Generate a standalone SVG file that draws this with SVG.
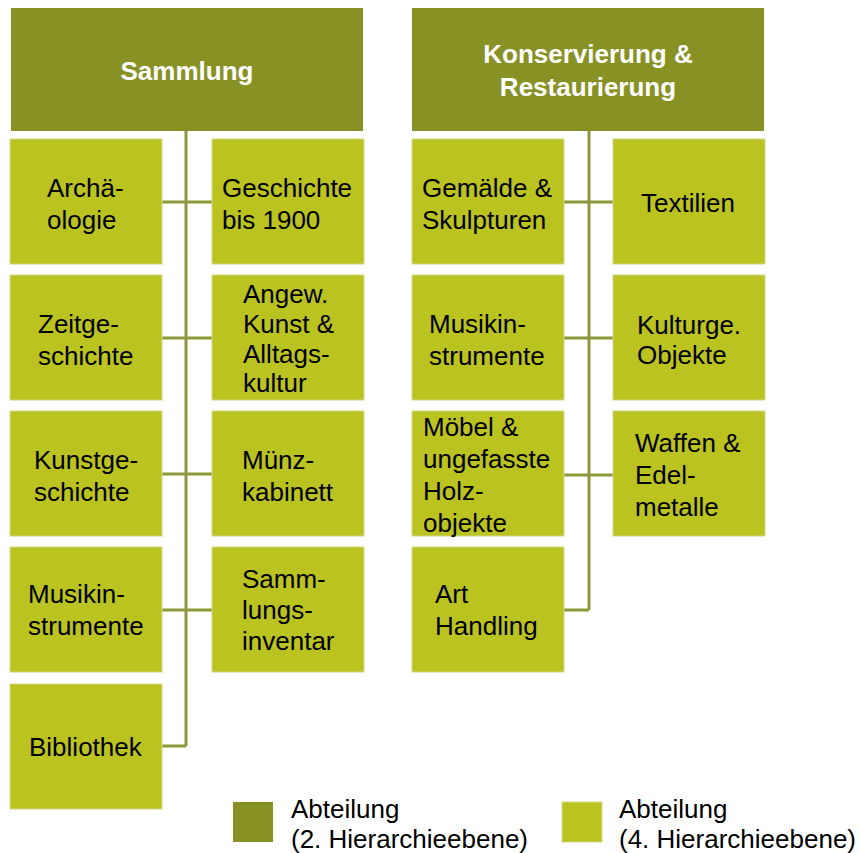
<svg xmlns="http://www.w3.org/2000/svg" width="860" height="853" viewBox="0 0 860 853">
  <style>
    .head { fill: #889124; }
    .unit { fill: #BAC31F; stroke: #D3D886; stroke-width: 1; }
    .htxt { font-family: "Liberation Sans", Arial, sans-serif; font-size: 26px; font-weight: bold; fill: #ffffff; text-anchor: middle; }
    .utxt { font-family: "Liberation Sans", Arial, sans-serif; font-size: 26px; fill: #000000; }
    .ltxt { font-family: "Liberation Sans", Arial, sans-serif; font-size: 26px; fill: #000000; }
    .conn { stroke: #8E973A; stroke-width: 3; fill: none; }
  </style>
  <rect width="860" height="853" fill="#ffffff"/>

  <!-- connectors -->
  <g id="connectors" class="conn">
    <path d="M186 131 V746"/>
    <path d="M162 202 H212 M162 338 H212 M162 474 H212 M162 610 H212 M162 746 H186"/>
    <path d="M589 131 V610"/>
    <path d="M564 202 H613 M564 338 H613 M564 475 H613 M564 610 H589"/>
  </g>

  <!-- Sammlung -->
  <g id="sammlung">
    <rect class="head" x="11" y="8" width="352" height="123"/>
    <text class="htxt" x="187" y="80">Sammlung</text>
  </g>
  <g id="archaeologie">
    <rect class="unit" x="10" y="139" width="152" height="125"/>
    <text class="utxt" x="47" y="197">Archä-</text>
    <text class="utxt" x="47" y="229">ologie</text>
  </g>
  <g id="geschichte">
    <rect class="unit" x="212" y="139" width="152" height="125"/>
    <text class="utxt" x="222" y="197">Geschichte</text>
    <text class="utxt" x="222" y="229">bis 1900</text>
  </g>
  <g id="zeitgeschichte">
    <rect class="unit" x="10" y="275" width="152" height="125"/>
    <text class="utxt" x="38" y="333">Zeitge-</text>
    <text class="utxt" x="38" y="365">schichte</text>
  </g>
  <g id="angewandte-kunst">
    <rect class="unit" x="212" y="275" width="152" height="125"/>
    <text class="utxt" x="243" y="303">Angew.</text>
    <text class="utxt" x="243" y="333">Kunst &amp;</text>
    <text class="utxt" x="243" y="363">Alltags-</text>
    <text class="utxt" x="243" y="392">kultur</text>
  </g>
  <g id="kunstgeschichte">
    <rect class="unit" x="10" y="411" width="152" height="125"/>
    <text class="utxt" x="34" y="469">Kunstge-</text>
    <text class="utxt" x="34" y="501">schichte</text>
  </g>
  <g id="muenzkabinett">
    <rect class="unit" x="212" y="411" width="152" height="125"/>
    <text class="utxt" x="242" y="469">Münz-</text>
    <text class="utxt" x="242" y="501">kabinett</text>
  </g>
  <g id="musikinstrumente-s">
    <rect class="unit" x="10" y="547" width="152" height="125"/>
    <text class="utxt" x="28" y="603">Musikin-</text>
    <text class="utxt" x="28" y="635">strumente</text>
  </g>
  <g id="sammlungsinventar">
    <rect class="unit" x="212" y="547" width="152" height="125"/>
    <text class="utxt" x="242" y="588">Samm-</text>
    <text class="utxt" x="242" y="619">lungs-</text>
    <text class="utxt" x="242" y="650">inventar</text>
  </g>
  <g id="bibliothek">
    <rect class="unit" x="10" y="684" width="152" height="125"/>
    <text class="utxt" x="29" y="756">Bibliothek</text>
  </g>

  <!-- Konservierung & Restaurierung -->
  <g id="konservierung">
    <rect class="head" x="412" y="8" width="352" height="123"/>
    <text class="htxt" x="588" y="63">Konservierung &amp;</text>
    <text class="htxt" x="588" y="96">Restaurierung</text>
  </g>
  <g id="gemaelde">
    <rect class="unit" x="412" y="139" width="152" height="125"/>
    <text class="utxt" x="422" y="197">Gemälde &amp;</text>
    <text class="utxt" x="422" y="229">Skulpturen</text>
  </g>
  <g id="textilien">
    <rect class="unit" x="613" y="139" width="152" height="125"/>
    <text class="utxt" x="641" y="212">Textilien</text>
  </g>
  <g id="musikinstrumente-k">
    <rect class="unit" x="412" y="275" width="152" height="125"/>
    <text class="utxt" x="429" y="333">Musikin-</text>
    <text class="utxt" x="429" y="365">strumente</text>
  </g>
  <g id="kulturgeschichte">
    <rect class="unit" x="613" y="275" width="152" height="125"/>
    <text class="utxt" x="637" y="334">Kulturge.</text>
    <text class="utxt" x="637" y="364">Objekte</text>
  </g>
  <g id="moebel">
    <rect class="unit" x="412" y="411" width="152" height="125"/>
    <text class="utxt" x="423" y="436">Möbel &amp;</text>
    <text class="utxt" x="423" y="468">ungefasste</text>
    <text class="utxt" x="423" y="500">Holz-</text>
    <text class="utxt" x="423" y="532">objekte</text>
  </g>
  <g id="waffen">
    <rect class="unit" x="613" y="411" width="152" height="125"/>
    <text class="utxt" x="635" y="452">Waffen &amp;</text>
    <text class="utxt" x="635" y="484">Edel-</text>
    <text class="utxt" x="635" y="516">metalle</text>
  </g>
  <g id="art-handling">
    <rect class="unit" x="412" y="547" width="152" height="125"/>
    <text class="utxt" x="435" y="603">Art</text>
    <text class="utxt" x="435" y="635">Handling</text>
  </g>

  <!-- legend -->
  <g id="legend">
    <rect class="head" x="233" y="802" width="40" height="40"/>
    <text class="ltxt" x="291" y="818">Abteilung</text>
    <text class="ltxt" x="291" y="848">(2. Hierarchieebene)</text>
    <rect class="unit" x="562" y="802" width="40" height="40" stroke="none"/>
    <text class="ltxt" x="619" y="818">Abteilung</text>
    <text class="ltxt" x="619" y="848">(4. Hierarchieebene)</text>
  </g>
</svg>
